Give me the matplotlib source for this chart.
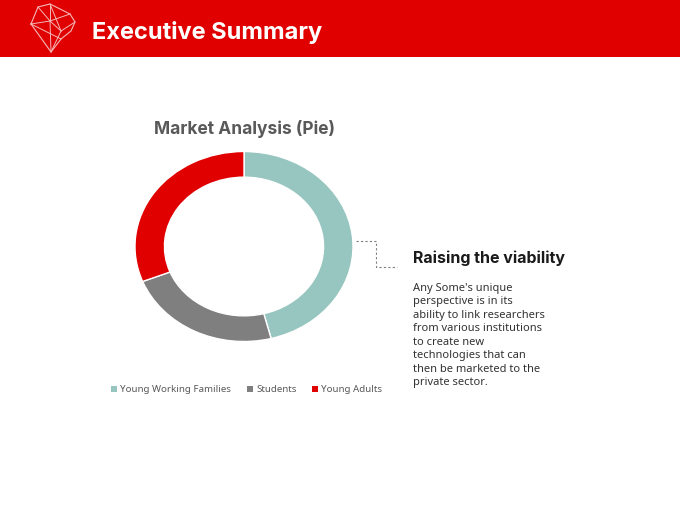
import matplotlib.pyplot as plt
from matplotlib.patches import Rectangle

# Chart data
categories = ['Young Working Families', 'Students', 'Young Adults']
values = [46, 23, 31]
colors = ['#97C6C0', '#7F7F7F', '#E00000']

title = 'Market Analysis (Pie)'
heading = 'Executive Summary'
side_title = 'Raising the viability'
side_lines = ["Any Some's unique",
              'perspective is in its',
              'ability to link researchers',
              'from various institutions',
              'to create new',
              'technologies that can',
              'then be marketed to the',
              'private sector.']

W, H = 680, 510
FONT = ['Noto Sans', 'DejaVu Sans']
BOLD = ['Inter', 'DejaVu Sans']

fig = plt.figure(figsize=(W / 100, H / 100), dpi=100)
fig.patch.set_facecolor('white')

# background canvas in pixel coordinates
bg = fig.add_axes([0, 0, 1, 1])
bg.set_xlim(0, W)
bg.set_ylim(H, 0)
bg.axis('off')

# header band
bg.add_patch(Rectangle((0, 0), W, 58, color='#E00000', lw=0))
bg.text(92, 38.5, heading, color='white', fontsize=17, fontweight='bold',
        family=BOLD, va='baseline', ha='left')

# crystal icon
icon_col = '#F4B8B8'
outer = [(31, 25), (38, 8), (50, 5), (70, 15), (75, 23), (71, 32),
         (61, 40), (51, 53), (31, 25)]
bg.plot([p[0] for p in outer], [p[1] for p in outer], color=icon_col, lw=0.8)
node_a, node_b = (50, 22), (61, 32)
inner = [[(31, 25), node_a], [(50, 5), node_a], [(38, 8), node_a],
         [(70, 15), node_a], [node_a, node_b], [node_b, (75, 23)],
         [node_b, (51, 53)], [node_a, (51, 53)],
         [(50, 5), (61, 32)], [(31, 25), (61, 40)]]
for seg in inner:
    bg.plot([seg[0][0], seg[1][0]], [seg[0][1], seg[1][1]],
            color=icon_col, lw=0.7)

# chart title
bg.text(244, 134, title, color='#595959', fontsize=12.5, fontweight='bold',
        family=BOLD, ha='center', va='baseline')

# dashed connector
bg.plot([356, 376, 376, 397], [242, 242, 268, 268], color='#7F7F7F',
        lw=0.8, ls=(0, (2, 2)))

# side text
bg.text(413, 263.5, side_title, color='#1A1A1A', fontsize=11.5,
        fontweight='bold', family=BOLD, ha='left', va='baseline')
for i, line in enumerate(side_lines):
    bg.text(413, 288.5 + i * 13.5, line, color='#333333', fontsize=8.0,
            family=FONT, ha='left', va='center')

# legend
leg_x = [111, 247, 312]
for x, lab, c in zip(leg_x, categories, colors):
    bg.add_patch(Rectangle((x, 387), 6, 6, color=c, lw=0))
    bg.text(x + 9, 390, lab, color='#595959', fontsize=7, family=FONT,
            ha='left', va='center')

# doughnut
ax = fig.add_axes([135 / W, (H - 342.5) / H, 218 / W, 190 / H])
ax.pie(values, colors=colors, startangle=90, counterclock=False,
       wedgeprops=dict(width=0.27, edgecolor='white', linewidth=1))
ax.set_aspect('auto')
ax.set_xlim(-1, 1)
ax.set_ylim(-1, 1)
ax.axis('off')

fig.savefig('out.png', dpi=100)
